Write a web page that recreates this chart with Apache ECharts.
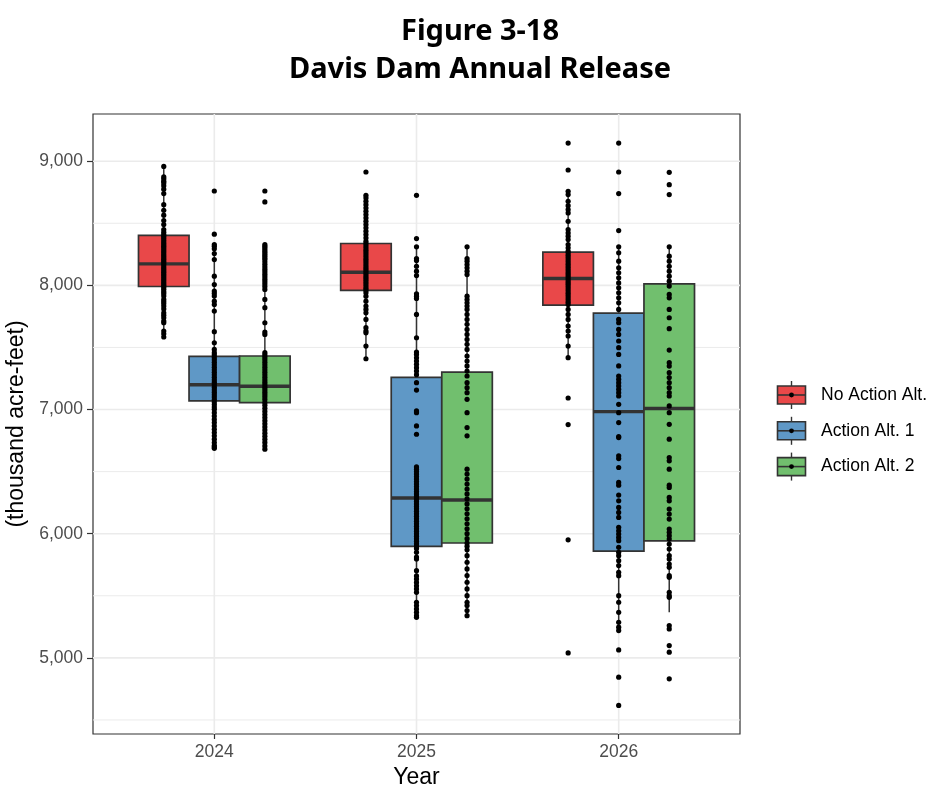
<!DOCTYPE html>
<html>
<head>
<meta charset="utf-8">
<script src="https://cdn.jsdelivr.net/npm/echarts@6/dist/echarts.min.js"></script>
<style>
  html, body { margin: 0; padding: 0; background: #ffffff; }
  #chart { width: 930px; height: 787px; }
</style>
</head>
<body>
<div id="chart"></div>
<script>
// Years on the x axis
const categories = ['2024', '2025', '2026'];
const seriesNames = ['No Action Alt.', 'Action Alt. 1', 'Action Alt. 2'];

// Box statistics per year: [lower whisker, Q1, median, Q3, upper whisker]
const noActionBox = [
  [7584, 7991, 8173, 8403, 8958],
  [7409, 7959, 8106, 8337, 8725],
  [7418, 7841, 8055, 8267, 8757]
];
const alt1Box = [
  [6688, 7069, 7200, 7428, 8300],
  [5327, 5898, 6287, 7259, 8310],
  [5220, 5860, 6983, 7777, 8310]
];
const alt2Box = [
  [6681, 7056, 7187, 7431, 8320],
  [5340, 5925, 6271, 7302, 8310],
  [5367, 5943, 7008, 8012, 8310]
];

// Individual trace values (thousand acre-feet) per year
const noActionPts = [
  [8958, 8873, 8857, 8838, 8825, 8803, 8775, 8739, 8650, 8605, 8565, 8522, 8490, 8449, 8428, 8409,
   8395, 8380, 8362, 8345, 8330, 8315, 8300, 8285, 8270, 8255, 8240, 8225, 8210, 8195, 8180, 8165,
   8150, 8135, 8120, 8105, 8090, 8075, 8060, 8045, 8030, 8015, 8000, 7985, 7968, 7950, 7935, 7915,
   7887, 7870, 7854, 7833, 7810, 7779, 7760, 7739, 7712, 7699, 7632, 7610, 7584],
  [8913, 8725, 8704, 8677, 8650, 8623, 8597, 8570, 8543, 8516, 8490, 8463, 8436, 8409, 8382, 8355,
   8337, 8318, 8300, 8282, 8264, 8246, 8228, 8210, 8192, 8174, 8156, 8138, 8120, 8102, 8084, 8066,
   8048, 8030, 8012, 7994, 7976, 7959, 7940, 7913, 7873, 7833, 7806, 7779, 7726, 7659, 7632, 7618,
   7511, 7409],
  [9146, 8929, 8757, 8731, 8677, 8642, 8610, 8583, 8516, 8449, 8422, 8396, 8369, 8329, 8302, 8275,
   8260, 8242, 8224, 8206, 8188, 8170, 8152, 8134, 8116, 8098, 8080, 8062, 8044, 8026, 8008, 7990,
   7972, 7954, 7936, 7918, 7900, 7882, 7864, 7846, 7806, 7766, 7726, 7672, 7632, 7592, 7511, 7418,
   7093, 6879, 5951, 5040]
];
const alt1Pts = [
  [8760, 8412, 8329, 8315, 8294, 8256, 8208, 8074, 8007, 7954, 7935, 7914, 7873, 7846, 7793, 7627,
   7538, 7484, 7458, 7440, 7420, 7400, 7380, 7360, 7340, 7320, 7300, 7280, 7260, 7240, 7220, 7200,
   7180, 7160, 7140, 7120, 7100, 7080, 7060, 7040, 7020, 7002, 6975, 6948, 6920, 6895, 6868, 6841,
   6815, 6788, 6761, 6734, 6710, 6699, 6688],
  [8725, 8377, 8310, 8216, 8200, 8154, 8114, 8079, 7932, 7913, 7895, 7766, 7578, 7463, 7444, 7417,
   7390, 7364, 7337, 7310, 7281, 7216, 7157, 6989, 6975, 6868, 6801, 6538, 6520, 6500, 6480, 6460,
   6440, 6420, 6400, 6380, 6360, 6340, 6320, 6300, 6280, 6260, 6240, 6220, 6200, 6180, 6160, 6140,
   6120, 6100, 6080, 6060, 6040, 6020, 6000, 5980, 5960, 5940, 5920, 5900, 5880, 5850, 5812, 5797,
   5702, 5660, 5635, 5608, 5581, 5555, 5528, 5448, 5421, 5394, 5367, 5340, 5327],
  [9146, 8913, 8739, 8441, 8310, 8262, 8195, 8141, 8101, 8061, 8020, 7980, 7940, 7900, 7860, 7806,
   7726, 7699, 7645, 7605, 7552, 7498, 7444, 7351, 7270, 7243, 7216, 7190, 7163, 7136, 7109, 7042,
   6975, 6895, 6782, 6774, 6627, 6605, 6533, 6413, 6391, 6311, 6265, 6212, 6171, 6131, 6051, 6024,
   5997, 5970, 5944, 5890, 5850, 5823, 5783, 5743, 5689, 5662, 5501, 5448, 5367, 5287, 5247, 5220,
   5064, 4845, 4617]
];
const alt2Pts = [
  [8760, 8672, 8329, 8315, 8300, 8285, 8270, 8255, 8240, 8225, 8210, 8190, 8170, 8150, 8130, 8110,
   8090, 8070, 8050, 8030, 8010, 7990, 7967, 7887, 7820, 7699, 7624, 7605, 7458, 7440, 7420, 7400,
   7380, 7360, 7340, 7320, 7300, 7280, 7260, 7240, 7220, 7200, 7180, 7160, 7140, 7120, 7100, 7080,
   7056, 7035, 7010, 6985, 6960, 6935, 6910, 6885, 6860, 6835, 6810, 6785, 6760, 6735, 6707, 6681],
  [8310, 8216, 8195, 8168, 8141, 8114, 8087, 7913, 7886, 7860, 7833, 7806, 7766, 7726, 7686, 7645,
   7605, 7565, 7525, 7484, 7431, 7391, 7351, 7310, 7270, 7216, 7176, 7136, 7082, 6975, 6855, 6788,
   6520, 6480, 6440, 6400, 6360, 6320, 6280, 6240, 6200, 6160, 6120, 6080, 6040, 6000, 5960, 5925,
   5900, 5870, 5823, 5770, 5716, 5663, 5609, 5555, 5501, 5448, 5421, 5381, 5340],
  [8910, 8811, 8731, 8310, 8235, 8195, 8154, 8114, 8074, 8034, 7994, 7927, 7900, 7806, 7739, 7651,
   7479, 7377, 7350, 7297, 7257, 7216, 7176, 7136, 7109, 7029, 6975, 6881, 6761, 6613, 6587, 6520,
   6391, 6372, 6292, 6265, 6198, 6158, 6118, 6037, 6011, 5984, 5957, 5917, 5877, 5823, 5796, 5756,
   5729, 5662, 5649, 5528, 5501, 5488, 5260, 5233, 5099, 5046, 4831]
];

// Axis ticks and grid values
const yTicks = [5000, 6000, 7000, 8000, 9000];
const yMinor = [4500, 5500, 6500, 7500, 8500];
const yRange = [4387, 9380];

const fills = ['#E94849', '#5F98C6', '#71BF6E'];
const edge = '#333333';
const gridColor = '#EBEBEB';
const dodge = [-0.25, 0, 0.25];
const boxWidth = 0.25;
const textFont = 'Liberation Sans';

const boxSets = [noActionBox, alt1Box, alt2Box];
const pointSets = [noActionPts, alt1Pts, alt2Pts];
const catPos = categories.map((c, i) => i + 1);

const chart = echarts.init(document.getElementById('chart'), null, { renderer: 'canvas' });

// Background grid lines (major + minor), drawn under the boxes
const gridSeries = {
  type: 'custom',
  name: 'grid',
  silent: true,
  z: 1,
  clip: true,
  data: [0],
  renderItem: function (params, api) {
    const cs = params.coordSys;
    const children = [];
    yMinor.forEach(v => {
      const p = api.coord([catPos[0], v]);
      children.push({ type: 'line', shape: { x1: cs.x, y1: p[1], x2: cs.x + cs.width, y2: p[1] },
        style: { stroke: gridColor, lineWidth: 1 } });
    });
    yTicks.forEach(v => {
      const p = api.coord([catPos[0], v]);
      children.push({ type: 'line', shape: { x1: cs.x, y1: p[1], x2: cs.x + cs.width, y2: p[1] },
        style: { stroke: gridColor, lineWidth: 1.6 } });
    });
    catPos.forEach(c => {
      const p = api.coord([c, yTicks[0]]);
      children.push({ type: 'line', shape: { x1: p[0], y1: cs.y, x2: p[0], y2: cs.y + cs.height },
        style: { stroke: gridColor, lineWidth: 1.6 } });
    });
    return { type: 'group', children: children };
  }
};

function boxSeries(idx) {
  const data = boxSets[idx].map((b, i) => [catPos[i] + dodge[idx]].concat(b));
  return {
    type: 'custom',
    name: seriesNames[idx],
    z: 2,
    data: data,
    encode: { x: 0, y: [1, 2, 3, 4, 5] },
    renderItem: function (params, api) {
      const x = api.value(0);
      const half = api.size([boxWidth, 0])[0] / 2;
      const pLo = api.coord([x, api.value(1)]);
      const pQ1 = api.coord([x, api.value(2)]);
      const pMed = api.coord([x, api.value(3)]);
      const pQ3 = api.coord([x, api.value(4)]);
      const pHi = api.coord([x, api.value(5)]);
      const cx = pMed[0];
      return {
        type: 'group',
        children: [
          { type: 'line', shape: { x1: cx, y1: pHi[1], x2: cx, y2: pQ3[1] },
            style: { stroke: edge, lineWidth: 1.5 } },
          { type: 'line', shape: { x1: cx, y1: pQ1[1], x2: cx, y2: pLo[1] },
            style: { stroke: edge, lineWidth: 1.5 } },
          { type: 'rect', shape: { x: cx - half, y: pQ3[1], width: half * 2, height: pQ1[1] - pQ3[1] },
            style: { fill: fills[idx], stroke: edge, lineWidth: 1.7 } },
          { type: 'line', shape: { x1: cx - half, y1: pMed[1], x2: cx + half, y2: pMed[1] },
            style: { stroke: edge, lineWidth: 3.4 } }
        ]
      };
    }
  };
}

function pointSeries(idx) {
  const data = [];
  pointSets[idx].forEach((vals, i) => {
    vals.forEach(v => data.push([catPos[i] + dodge[idx], v]));
  });
  return {
    type: 'scatter',
    name: seriesNames[idx] + ' points',
    z: 3,
    symbol: 'circle',
    symbolSize: 5.2,
    itemStyle: { color: '#000000', opacity: 1 },
    emphasis: { disabled: true },
    data: data
  };
}

// Legend keys drawn as small boxplot glyphs
const legendChildren = [];
seriesNames.forEach((name, i) => {
  const cy = 395 + i * 35.8;
  const cx = 791.5;
  legendChildren.push(
    { type: 'line', shape: { x1: cx, y1: cy - 14, x2: cx, y2: cy + 14 }, style: { stroke: edge, lineWidth: 1.4 } },
    { type: 'rect', shape: { x: cx - 14, y: cy - 9, width: 28, height: 18 }, style: { fill: fills[i], stroke: edge, lineWidth: 1.6 } },
    { type: 'line', shape: { x1: cx - 14, y1: cy, x2: cx + 14, y2: cy }, style: { stroke: edge, lineWidth: 1.6 } },
    { type: 'circle', shape: { cx: cx, cy: cy, r: 2.4 }, style: { fill: '#000000' } },
    { type: 'text', x: 821, y: cy, style: { text: name, fill: '#000000', font: '17.5px "' + textFont + '"', textVerticalAlign: 'middle', textAlign: 'left' } }
  );
});

const option = {
  animation: false,
  backgroundColor: '#ffffff',
  title: {
    text: 'Figure 3-18\nDavis Dam Annual Release',
    left: 475,
    top: 8,
    textAlign: 'center',
    textStyle: {
      fontFamily: 'Noto Sans',
      fontWeight: 'bold',
      fontSize: 29,
      lineHeight: 38,
      color: '#000000'
    }
  },
  grid: {
    left: 93, top: 114, width: 647, height: 620,
    outerBoundsMode: 'none',
    containLabel: false,
    show: true, borderColor: edge, borderWidth: 1.2, backgroundColor: '#ffffff'
  },
  xAxis: {
    type: 'value',
    min: 0.4,
    max: 3.6,
    name: 'Year',
    nameLocation: 'middle',
    nameGap: 31,
    nameTextStyle: { fontFamily: textFont, fontSize: 23, color: '#000000' },
    axisLine: { show: false },
    splitLine: { show: false },
    axisTick: { show: true, customValues: catPos, length: 5, lineStyle: { color: edge, width: 1.2 } },
    axisLabel: {
      customValues: catPos,
      formatter: v => categories[Math.round(v) - 1],
      margin: 9,
      fontFamily: textFont, fontSize: 17.5, color: '#4D4D4D'
    }
  },
  yAxis: {
    type: 'value',
    min: yRange[0],
    max: yRange[1],
    name: '(thousand acre-feet)',
    nameLocation: 'middle',
    nameGap: 57,
    nameRotate: 90,
    nameTextStyle: { fontFamily: textFont, fontSize: 23, color: '#000000' },
    axisLine: { show: false },
    splitLine: { show: false },
    axisTick: { show: true, customValues: yTicks, length: 6, lineStyle: { color: edge, width: 1.2 } },
    axisLabel: {
      customValues: yTicks,
      formatter: v => Number(v).toLocaleString('en-US'),
      margin: 10,
      fontFamily: textFont, fontSize: 17.5, color: '#4D4D4D'
    }
  },
  graphic: { elements: legendChildren },
  series: [gridSeries]
    .concat([0, 1, 2].map(boxSeries))
    .concat([0, 1, 2].map(pointSeries))
};

chart.setOption(option);
</script>
</body>
</html>
